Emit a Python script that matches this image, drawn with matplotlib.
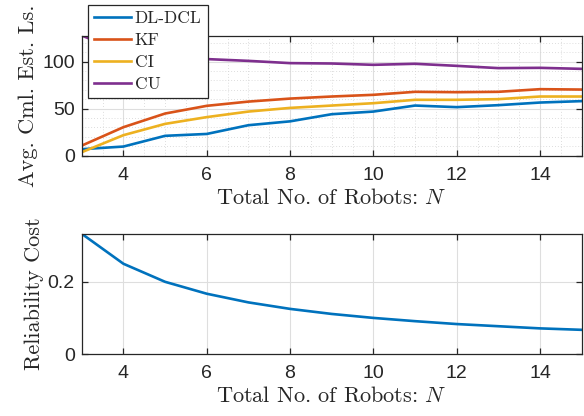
import matplotlib
matplotlib.use("Agg")
import matplotlib.pyplot as plt
from matplotlib.ticker import MultipleLocator

plt.rcParams['mathtext.fontset'] = 'cm'
plt.rcParams['axes.unicode_minus'] = False

# Number of robots
robots = [3, 4, 5, 6, 7, 8, 9, 10, 11, 12, 13, 14, 15]

# Average cumulative estimation losses
dl_dcl = [6.8, 9.6, 21.0, 23.0, 32.3, 36.4, 44.0, 46.8, 53.2, 51.5, 53.6, 56.4, 57.9]
kf = [10.6, 30.2, 44.7, 52.9, 57.4, 60.6, 62.8, 64.6, 67.8, 67.4, 67.8, 70.6, 70.2]
ci = [3.6, 21.7, 33.7, 40.9, 46.8, 50.7, 53.2, 55.7, 59.3, 59.3, 60.0, 62.8, 62.8]
cu = [127.6, 110.0, 104.5, 102.6, 100.7, 98.3, 97.9, 96.5, 97.6, 95.4, 93.0, 93.3, 92.2]

# Reliability cost of DL-DCL
reliability = [0.333, 0.25, 0.2, 0.167, 0.143, 0.125, 0.111, 0.1, 0.091,
               0.083, 0.077, 0.071, 0.067]

series_names = ['DL-DCL', 'KF', 'CI', 'CU']
colors = ['#0072BD', '#D95319', '#EDB120', '#7E2F8E']
x_ticks = [4, 6, 8, 10, 12, 14]

edge = '#262626'
serif = 'cmr10'
tick_font = 'Liberation Sans'
label_size = 16

fig = plt.figure(figsize=(5.84, 4.16), dpi=100)
ax1 = fig.add_axes([0.140, 0.626, 0.856, 0.2885])
ax2 = fig.add_axes([0.140, 0.149, 0.856, 0.289])


def style_axes(ax, minor):
    for s in ax.spines.values():
        s.set_color(edge)
        s.set_linewidth(0.9)
    ax.tick_params(which='major', direction='in', length=4.5, width=0.9,
                   top=True, right=True, colors=edge, labelsize=14)
    ax.tick_params(axis='x', which='major', pad=8)
    ax.tick_params(axis='y', which='major', pad=5)
    ax.tick_params(which='minor', length=0, top=True, right=True)
    for lab in ax.get_xticklabels() + ax.get_yticklabels():
        lab.set_fontfamily(tick_font)
    ax.grid(True, which='major', color='#dedede', linewidth=0.8)
    if minor:
        ax.grid(True, which='minor', color='#d2d2d2', linewidth=0.6,
                linestyle=(0, (1, 2.5)))
    ax.set_axisbelow(True)


lines = []
for vals, name, c in zip([dl_dcl, kf, ci, cu], series_names, colors):
    ln, = ax1.plot(robots, vals, color=c, linewidth=1.9, label=name)
    lines.append(ln)
ax1.set_xlim(3, 15)
ax1.set_ylim(0, max(cu))
ax1.set_xticks(x_ticks)
ax1.set_yticks([0, 50, 100])
ax1.xaxis.set_minor_locator(MultipleLocator(0.5))
ax1.yaxis.set_minor_locator(MultipleLocator(10))
style_axes(ax1, True)
ax1.set_xlabel('Total No. of Robots: $N$', family=serif, fontsize=label_size,
               color=edge, labelpad=3)
ax1.set_ylabel('Avg. Cml. Est. Ls.', family=serif, fontsize=label_size,
               color=edge, labelpad=3)

leg = fig.legend(handles=lines, loc='upper left',
                 bbox_to_anchor=(88 / 584, 1 - 5 / 416),
                 bbox_transform=fig.transFigure,
                 prop={'family': serif, 'size': 12.5},
                 frameon=True, fancybox=False, borderaxespad=0,
                 handlelength=2.1, handletextpad=0.25, labelspacing=0.37,
                 borderpad=0.35)
leg.get_frame().set_edgecolor(edge)
leg.get_frame().set_linewidth(0.9)
leg.get_frame().set_alpha(1)
for t in leg.get_texts():
    t.set_color(edge)

ax2.plot(robots, reliability, color=colors[0], linewidth=1.9)
ax2.set_xlim(3, 15)
ax2.set_ylim(0, reliability[0])
ax2.set_xticks(x_ticks)
ax2.set_yticks([0, 0.2])
ax2.set_yticklabels(['0', '0.2'])
style_axes(ax2, False)
ax2.set_xlabel('Total No. of Robots: $N$', family=serif, fontsize=label_size,
               color=edge, labelpad=3)
ax2.set_ylabel('Reliability Cost', family=serif, fontsize=label_size,
               color=edge, labelpad=3)

fig.savefig('out.png', dpi=100)
